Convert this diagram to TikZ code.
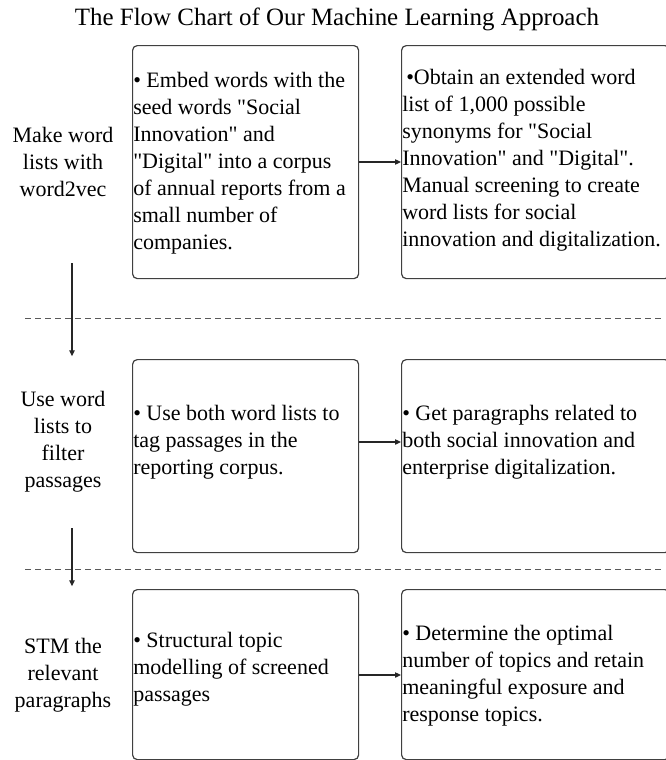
\documentclass[tikz,border=0pt]{standalone}
\usepackage{fontspec}
\setmainfont{Liberation Serif}[Ligatures=TeXOff]
\usetikzlibrary{arrows.meta,positioning}

\tikzset{
  card/.style={draw=black!75, line width=0.9pt, rounded corners=3.5pt, anchor=north west,
    minimum height=#1, inner sep=0pt},
  widecard/.style={card=#1, minimum width=201pt},
  narrowcard/.style={card=#1, minimum width=169.5pt},
  cardtext/.style={inner sep=0pt, anchor=west, align=left,
    font=\fontsize{16.5}{20.25}\selectfont},
  steplabel/.style={inner sep=0pt, align=center, font=\fontsize{16.5}{20.25}\selectfont},
  divider/.style={draw=black!65, line width=0.75pt, dash pattern=on 4.5pt off 3pt},
  flow/.style={-{Triangle[length=4.5pt,width=4pt]}, line width=0.9pt, black!85},
}

\begin{document}
\begin{tikzpicture}[x=0.75pt, y=-0.75pt]
  \useasboundingbox (0,0) rectangle (665,760);
  \node[inner sep=0pt, font=\fontsize{18.7}{22}\selectfont] (title) at (337,19)
    {The Flow Chart of Our Machine Learning Approach};

  % row 1
  \node[narrowcard=174.75pt] (embed) at (132,45) {};
  \node[widecard=174.75pt] (obtain) at (401,45) {};
  \node[steplabel] (make) at (63,162) {Make word\\lists with\\word2vec};
  \node[cardtext] (embedtxt) at (133,163) {• Embed words with the\\seed words "Social\\Innovation" and\\"Digital" into a corpus\\of annual reports from a\\small number of\\companies.};
  \node[cardtext] (obtaintxt) at (402,160) {\hspace{3pt}•Obtain an extended word\\list of 1,000 possible\\synonyms for "Social\\Innovation" and "Digital".\\Manual screening to create\\word lists for social\\innovation and digitalization.};
  \draw[flow] (embed.east |- make) -- (obtain.west |- make);

  \draw[divider] (25,318) -- (665,318);

  % row 2
  \node[narrowcard=144.75pt] (tag) at (132,359) {};
  \node[widecard=144.75pt] (get) at (401,359) {};
  \node[steplabel] (filter) at (63,442) {Use word\\lists to\\filter\\passages};
  \node[cardtext] (tagtxt) at (133,442) {• Use both word lists to\\tag passages in the\\reporting corpus.};
  \node[cardtext] (gettxt) at (402,442) {• Get paragraphs related to\\both social innovation and\\enterprise digitalization.};
  \draw[flow] (tag.east |- filter) -- (get.west |- filter);

  \draw[divider] (25,569) -- (665,569);

  % row 3
  \node[narrowcard=127.5pt] (model) at (132,589) {};
  \node[widecard=127.5pt] (determine) at (401,589) {};
  \node[steplabel] (stm) at (63,675) {STM the\\relevant\\paragraphs};
  \node[cardtext] (modeltxt) at (133,669) {• Structural topic\\modelling of screened\\passages};
  \node[cardtext] (determinetxt) at (402,676) {• Determine the optimal\\number of topics and retain\\meaningful exposure and\\response topics.};
  \draw[flow] (model.east |- stm) -- (determine.west |- stm);

  % steps down the left side
  \coordinate (down1) at (72,263);
  \coordinate (down2) at (72,528);
  \draw[flow, shorten >=2pt] (down1) -- (down1 |- tag.north);
  \draw[flow, shorten >=2pt] (down2) -- (down2 |- model.north);
\end{tikzpicture}
\end{document}
